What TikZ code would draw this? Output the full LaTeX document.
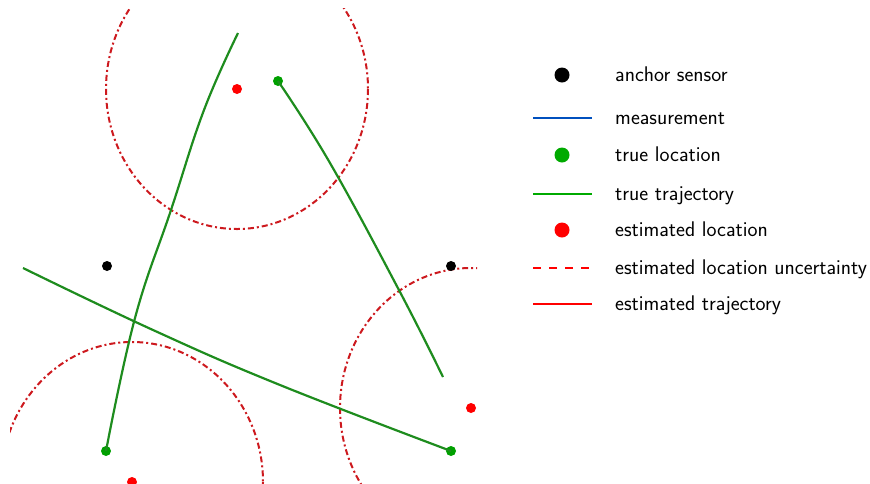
\documentclass[tikz,border=0pt]{standalone}
\usepackage{xcolor}
\definecolor{trajgreen}{RGB}{30,140,30}
\definecolor{dotgreen}{RGB}{0,160,0}
\definecolor{leggreen}{RGB}{0,170,0}
\definecolor{ellred}{RGB}{205,25,30}
\definecolor{measblue}{RGB}{0,80,190}
\begin{document}
\begin{tikzpicture}[x=1pt,y=-1pt,
  dot/.style={circle,inner sep=0pt,minimum size=10pt,fill=#1},
  legdot/.style={circle,inner sep=0pt,minimum size=15pt,fill=#1},
  traj/.style={draw=trajgreen,line width=2.2pt,line join=round},
  uncert/.style={draw=ellred,line width=2pt,dash pattern=on 6pt off 3pt on 2pt off 3pt},
  legline/.style={line width=2.5pt},
  legtext/.style={anchor=base west,inner sep=0pt,font=\sffamily\fontsize{21.2}{24}\selectfont}]
\useasboundingbox (0,0) rectangle (870,483);
% estimated locations
\node[dot=red] (e1) at (237,89) {};
\node[dot=red] (e2) at (471,408) {};
\node[dot=red] (e3) at (132,482) {};
% uncertainty ellipses
\begin{scope}
\clip (10,8) rectangle (477,490);
\draw[uncert] (e1) ellipse [x radius=131, y radius=140];
\draw[uncert] (e2) ellipse [x radius=131, y radius=140];
\draw[uncert] (e3) ellipse [x radius=131, y radius=140];
\end{scope}
% anchors
\node[dot=black] (a1) at (107,266) {};
\node[dot=black] (a2) at (451,266) {};
% true locations
\node[dot=dotgreen] (t1) at (106,451) {};
\node[dot=dotgreen] (t2) at (278,81) {};
\node[dot=dotgreen] (t3) at (451,451) {};
\coordinate (s1) at (238,33);
\coordinate (s2) at (443,377);
\coordinate (s3) at (23,268);
% trajectories
\draw[traj] plot[smooth,tension=0.7] coordinates {(s1) (204,110) (171,210) (135,318) (t1)};
\draw[traj] plot[smooth,tension=0.7] coordinates {(t2) (330,163) (400,292) (s2)};
\draw[traj] plot[smooth,tension=0.7] coordinates {(s3) (153,330) (280,385) (t3)};
% legend
\node[legdot=black] (l1) at (562,75) {};
\coordinate (l2a) at (533,118); \coordinate (l2b) at (592,118);
\draw[legline,measblue] (l2a) -- (l2b);
\node[legdot=leggreen] (l3) at (562,155) {};
\coordinate (l4a) at (533,194); \coordinate (l4b) at (592,194);
\draw[legline,leggreen] (l4a) -- (l4b);
\node[legdot=red] (l5) at (562,230) {};
\coordinate (l6a) at (533,268); \coordinate (l6b) at (592,268);
\draw[legline,red,dash pattern=on 8pt off 8pt] (l6a) -- (l6b);
\coordinate (l7a) at (533,304); \coordinate (l7b) at (592,304);
\draw[legline,red] (l7a) -- (l7b);
\node[legtext] (x1) at (615,81) {anchor sensor};
\node[legtext] (x2) at (615,124) {measurement};
\node[legtext] (x3) at (615,161) {true location};
\node[legtext] (x4) at (615,200) {true trajectory};
\node[legtext] (x5) at (615,236) {estimated location};
\node[legtext] (x6) at (615,274) {estimated location uncertainty};
\node[legtext] (x7) at (615,310) {estimated trajectory};
\end{tikzpicture}
\end{document}
